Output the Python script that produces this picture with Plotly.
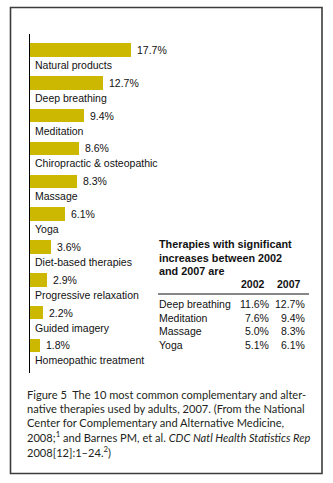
import plotly.graph_objects as go

# ---- data ----
therapies = ["Natural products", "Deep breathing", "Meditation", "Chiropractic & osteopathic",
             "Massage", "Yoga", "Diet-based therapies", "Progressive relaxation",
             "Guided imagery", "Homeopathic treatment"]
usage_pct = [17.7, 12.7, 9.4, 8.6, 8.3, 6.1, 3.6, 2.9, 2.2, 1.8]

table_title = ["Therapies with significant", "increases between 2002", "and 2007 are"]
table_years = ["2002", "2007"]
table_names = ["Deep breathing", "Meditation", "Massage", "Yoga"]
table_2002 = ["11.6%", "7.6%", "5.0%", "5.1%"]
table_2007 = ["12.7%", "9.4%", "8.3%", "6.1%"]

caption_lines = [
    "Figure 5  The 10 most common complementary and alter-",
    "native therapies used by adults, 2007. (From the National",
    "Center for Complementary and Alternative Medicine,",
    "2008;<sup>1</sup> and Barnes PM, et al. <i>CDC Natl Health Statistics Rep</i>",
    "2008[12]:1\u201324.<sup>2</sup>)",
]

W, H = 333, 483
def px(x):
    return x / W
def py(y):
    return 1 - y / H

BAR = "#CCB800"
TXT = "#111111"
FONT = "Liberation Sans, Arial, sans-serif"
CAPFONT = "Lato, 'Open Sans', sans-serif"
FS = 10.5

idx = list(range(len(therapies)))

fig = go.Figure()
fig.add_trace(go.Bar(
    x=usage_pct, y=idx, orientation="h", width=0.41,
    marker=dict(color=BAR, line=dict(width=0)),
    hoverinfo="skip", showlegend=False,
))

annotations = []
for i, (name, v) in enumerate(zip(therapies, usage_pct)):
    annotations.append(dict(x=v, y=i, xref="x", yref="y", text=f"{v}%", showarrow=False,
                            xanchor="left", yanchor="middle", xshift=4,
                            font=dict(family=FONT, size=FS, color=TXT)))
    annotations.append(dict(x=0, y=i, xref="x", yref="y", text=name, showarrow=False,
                            xanchor="left", yanchor="middle", xshift=3, yshift=-15,
                            font=dict(family=FONT, size=FS, color=TXT)))

# table
for k, line in enumerate(table_title):
    annotations.append(dict(x=px(157), y=py([244, 257.5, 271][k]), xref="paper", yref="paper",
                            text=f"<b>{line}</b>", showarrow=False, xanchor="left", yanchor="middle",
                            font=dict(family=FONT, size=FS + 0.3, color=TXT)))
for k, yr in enumerate(table_years):
    annotations.append(dict(x=px([267, 303][k]), y=py(284), xref="paper", yref="paper",
                            text=f"<b>{yr}</b>", showarrow=False, xanchor="right", yanchor="middle",
                            font=dict(family=FONT, size=FS, color=TXT)))
for r, (n, a, b) in enumerate(zip(table_names, table_2002, table_2007)):
    yy = py(304 + r * 13.5)
    annotations.append(dict(x=px(157), y=yy, xref="paper", yref="paper", text=n, showarrow=False,
                            xanchor="left", yanchor="middle", font=dict(family=FONT, size=FS, color=TXT)))
    annotations.append(dict(x=px(270.5), y=yy, xref="paper", yref="paper", text=a, showarrow=False,
                            xanchor="right", yanchor="middle", font=dict(family=FONT, size=FS, color=TXT)))
    annotations.append(dict(x=px(307), y=yy, xref="paper", yref="paper", text=b, showarrow=False,
                            xanchor="right", yanchor="middle", font=dict(family=FONT, size=FS, color=TXT)))

# caption
for k, line in enumerate(caption_lines):
    annotations.append(dict(x=px(25), y=py(394 + k * 14.3), xref="paper", yref="paper", text=line,
                            showarrow=False, xanchor="left", yanchor="middle",
                            font=dict(family=CAPFONT, size=11.1, color="#231f20")))

shapes = [
    dict(type="rect", xref="paper", yref="paper", x0=px(10.5), x1=px(322), y0=py(7.5), y1=py(473.5),
         line=dict(color="#3c3c3c", width=1.6)),
    dict(type="line", xref="paper", yref="paper", x0=px(158), x1=px(309), y0=py(294), y1=py(294),
         line=dict(color="#111111", width=1)),
]

fig.update_layout(
    width=W, height=H, margin=dict(l=0, r=0, t=0, b=0),
    paper_bgcolor="white", plot_bgcolor="white",
    xaxis=dict(domain=[px(30), px(30 + 25 * 5.72)], range=[0, 25], showgrid=False, zeroline=False,
               showticklabels=False, ticks="", showline=False, fixedrange=True),
    yaxis=dict(domain=[py(373), py(34)], range=[9.838, -0.487], showgrid=False, zeroline=False,
               showticklabels=False, ticks="", showline=True, linecolor="#000000", linewidth=1.4,
               fixedrange=True),
    annotations=annotations, shapes=shapes, bargap=0,
)

fig.write_html("out.html")
